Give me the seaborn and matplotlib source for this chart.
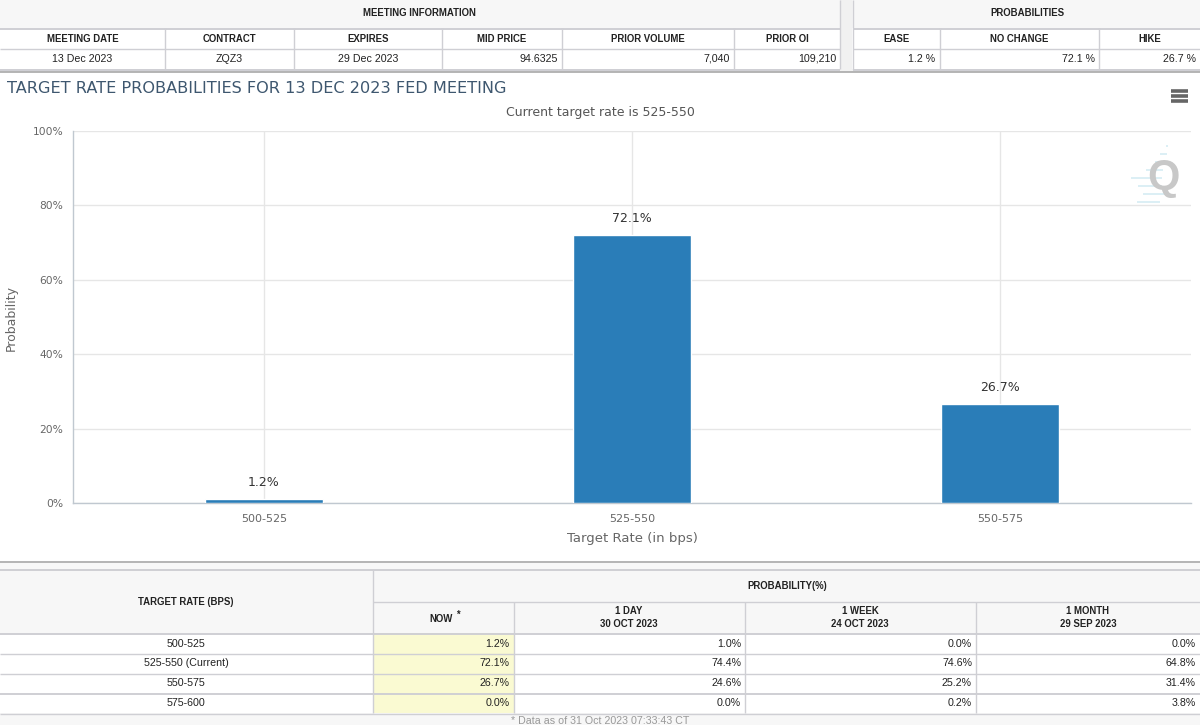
# Fed target rate probabilities, chart plus the two tables around it
import seaborn as sns
import matplotlib.pyplot as plt
import pandas as pd
from matplotlib.patches import Rectangle

rates = ['500-525', '525-550', '550-575']
probs = [1.2, 72.1, 26.7]
y_ticks = [0, 20, 40, 60, 80, 100]

info_heads = ['MEETING DATE', 'CONTRACT', 'EXPIRES', 'MID PRICE', 'PRIOR VOLUME', 'PRIOR OI']
info_values = ['13 Dec 2023', 'ZQZ3', '29 Dec 2023', '94.6325', '7,040', '109,210']
prob_heads = ['EASE', 'NO CHANGE', 'HIKE']
prob_values = ['1.2 %', '72.1 %', '26.7 %']

row_labels = ['500-525', '525-550 (Current)', '550-575', '575-600']
now_col = ['1.2%', '72.1%', '26.7%', '0.0%']
day_col = ['1.0%', '74.4%', '24.6%', '0.0%']
week_col = ['0.0%', '74.6%', '25.2%', '0.2%']
month_col = ['0.0%', '64.8%', '31.4%', '3.8%']

W, H = 1200, 725
HEAD_BG = '#f7f7f7'
LINE = '#cfcfd4'
TXT = '#222222'

sns.set_theme(style='whitegrid')
fig = plt.figure(figsize=(12, 7.25), dpi=100, facecolor='white')

# page layer in pixel coordinates, for the html tables
page = fig.add_axes([0, 0, 1, 1], zorder=0)
page.set_xlim(0, W)
page.set_ylim(H, 0)
page.axis('off')


def box(x0, y0, x1, y1, color):
    page.add_patch(Rectangle((x0, y0), x1 - x0, y1 - y0, fc=color, ec='none'))


def hline(y, x0=0, x1=W, color=LINE, lw=1.0):
    page.plot([x0, x1], [y, y], color=color, lw=lw, solid_capstyle='butt')


def vline(x, y0, y1, color=LINE, lw=1.0):
    page.plot([x, x], [y0, y1], color=color, lw=lw, solid_capstyle='butt')


def table_text(x, y, s, ha='center', bold=False, color=TXT, size=7.7):
    page.text(x, y, s, ha=ha, va='center', family='Liberation Sans', fontsize=size,
              fontweight='bold' if bold else 'normal', color=color)


# top table
box(0, 0, 840, 28, HEAD_BG)
box(852, 0, W, 28, HEAD_BG)
box(840, 0, 852, 72, '#f1f1f1')
box(0, 69, W, 72, '#f1f1f1')
table_text(419, 12.5, 'MEETING INFORMATION', bold=True, size=6.9)
table_text(1027, 12.5, 'PROBABILITIES', bold=True, size=6.9)

info_edges = [0, 165, 293.5, 442, 562, 734, 840]
prob_edges = [852.5, 939.5, 1099, 1200]
hline(28.5, 0, 840, lw=1.4)
hline(28.5, 852.5, W, lw=1.4)
hline(48.5, 0, 840)
hline(48.5, 852.5, W)
hline(69.5, 0, 840, lw=1.4)
hline(69.5, 852.5, W, lw=1.4)
hline(72, color='#a8a8a8', lw=1.2)
for x in info_edges[1:]:
    vline(x, 0 if x == 840 else 28, 69)
for x in prob_edges[:-1]:
    vline(x, 0 if x == 852.5 else 28, 69)

for i, head in enumerate(info_heads):
    table_text((info_edges[i] + info_edges[i + 1]) / 2, 39, head, bold=True, size=6.9)
for i, val in enumerate(info_values):
    if i < 3:
        table_text((info_edges[i] + info_edges[i + 1]) / 2, 58.5, val)
    else:
        table_text(info_edges[i + 1] - 4, 58.5, val, ha='right')
for i, head in enumerate(prob_heads):
    table_text((prob_edges[i] + prob_edges[i + 1]) / 2, 39, head, bold=True, size=6.9)
for i, val in enumerate(prob_values):
    table_text(prob_edges[i + 1] - 4, 58.5, val, ha='right')

# bottom table
hline(562, color='#a8a8a8', lw=1.2)
box(0, 562.5, W, 570, '#f8f8f8')
box(0, 570, W, 633, HEAD_BG)
box(373, 633, 513.5, 713, '#fafad2')
box(0, 713, W, H, HEAD_BG)
hline(570, lw=1.4)
hline(602, 373, W)
table_text(186, 602, 'TARGET RATE (BPS)', bold=True, size=6.9)
table_text(787, 586, 'PROBABILITY(%)', bold=True, size=6.9)
table_text(441, 618.5, 'NOW', bold=True, size=6.9)
table_text(458, 614.5, '*', bold=True, size=6.9)

col_edges = [373, 513.5, 745, 976, 1200]
table_text(629, 611.5, '1 DAY', bold=True, size=6.9)
table_text(629, 624, '30 OCT 2023', bold=True, size=6.9)
table_text(860, 611.5, '1 WEEK', bold=True, size=6.9)
table_text(860, 624, '24 OCT 2023', bold=True, size=6.9)
table_text(1088, 611.5, '1 MONTH', bold=True, size=6.9)
table_text(1088, 624, '29 SEP 2023', bold=True, size=6.9)

row_lines = [633.5, 653.5, 674, 694, 713.5]
row_mid = [644, 663.5, 683.5, 703]
for y in row_lines:
    hline(y, lw=1.4 if y in (633.5, 694) else 1.0)
for x in col_edges[:-1]:
    vline(x, 602 if x != 373 else 570, 713)
for i, y in enumerate(row_mid):
    table_text(186, y, row_labels[i])
    for j, col in enumerate([now_col, day_col, week_col, month_col]):
        table_text(col_edges[j + 1] - 4, y, col[i], ha='right')
table_text(600, 721, '* Data as of 31 Oct 2023 07:33:43 CT', color='#999999')

# chart title, menu icon and watermark
page.text(7, 88, 'TARGET RATE PROBABILITIES FOR 13 DEC 2023 FED MEETING', ha='left', va='center',
          fontsize=11.6, color='#3e576f')
page.text(600, 112, 'Current target rate is 525-550', ha='center', va='center',
          fontsize=9, color='#555555')
for y in [91, 96, 101]:
    hline(y, 1171, 1188, color='#666666', lw=2.6)
for y, x0, x1 in [(146, 1166, 1168), (154, 1160, 1167), (162, 1155, 1165), (170, 1146, 1163), (178, 1131, 1162),
                  (186, 1138, 1162), (194, 1143, 1165), (202, 1137, 1160)]:
    hline(y, x0, x1, color='#d5ecf3', lw=1.2)
page.text(1163, 178, 'Q', ha='center', va='center', fontsize=30, fontweight='bold',
          family='Liberation Sans', color='#c8c8c8')

# the chart itself, 73..1191 by 131..503 px
ax = fig.add_axes([73 / W, 1 - 503 / H, (1191 - 73) / W, (503 - 131) / H], zorder=1)
ax.patch.set_alpha(0)

df = pd.DataFrame({'rate': rates, 'prob': probs})
sns.barplot(data=df, x='rate', y='prob', color='#2a7db8', saturation=1, width=0.32, ax=ax, zorder=3)

ax.set_xlim(-0.519, 2.519)
ax.set_ylim(0, 100)
ax.set_yticks(y_ticks)
ax.set_yticklabels([f'{t}%' for t in y_ticks])
ax.grid(True, color='#e6e6e6', lw=1)
ax.set_axisbelow(True)
ax.tick_params(axis='y', labelsize=7.7, labelcolor='#666666', length=0, pad=7)
ax.tick_params(axis='x', labelsize=8, labelcolor='#666666', length=0, pad=8)
for name, spine in ax.spines.items():
    spine.set_visible(name in ('left', 'bottom'))
    spine.set_color('#c0c8d0')
    spine.set_linewidth(1)

ax.set_xlabel('Target Rate (in bps)', fontsize=9.5, color='#666666', labelpad=6)
ax.set_ylabel('Probability', fontsize=9, color='#666666', labelpad=0)
ax.yaxis.set_label_coords(-0.049, 0.497)

for i, p in enumerate(probs):
    ax.annotate(f'{p}%', (i, p), xytext=(0, 7), textcoords='offset points', ha='center', va='bottom',
                fontsize=9, color='#333333')

fig.savefig('out.png', dpi=100)
